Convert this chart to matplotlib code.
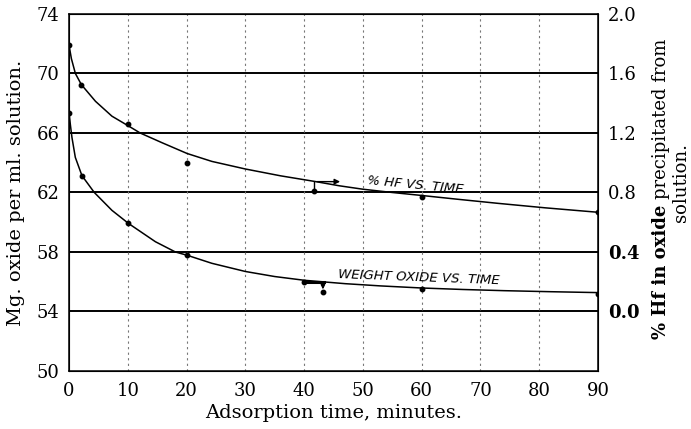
import matplotlib
matplotlib.use("Agg")
import matplotlib.pyplot as plt

# time axis (minutes)
x_ticks = [0, 10, 20, 30, 40, 50, 60, 70, 80, 90]
left_ticks = [50, 54, 58, 62, 66, 70, 74]
right_ticks = [0.0, 0.4, 0.8, 1.2, 1.6, 2.0]
right_labels = ['0.0', '0.4', '0.8', '1.2', '1.6', '2.0']

# weight oxide (mg per ml) - measured points
wt_t = [0, 2.2, 10, 20, 40, 43.2, 60, 90]
wt_val = [67.33, 63.13, 59.92, 57.78, 56.0, 55.3, 55.5, 55.2]
# hand drawn curve through them
wt_curve_t = [0, 0.22, 0.5, 1.07, 2.2, 4.3, 7.3, 10.15, 14.7, 18.1, 20.1, 24.3, 30, 35,
              40, 47, 53, 60, 67, 74, 82, 90]
wt_curve_v = [67.4, 66.58, 65.69, 64.36, 63.13, 62.0, 60.8, 59.91, 58.69, 58.0, 57.78,
              57.24, 56.69, 56.35, 56.1, 55.87, 55.72, 55.58, 55.48, 55.4, 55.33, 55.27]

# % Hf in oxide - measured points (right axis)
hf_t = [0, 2.1, 10, 20, 41.7, 60, 90]
hf_val = [1.79, 1.525, 1.26, 1.00, 0.807, 0.767, 0.667]
hf_curve_t = [0, 0.4, 1.08, 2.1, 4.5, 7.3, 10, 12.1, 15.8, 20.1, 24.3, 30, 36, 42, 46,
              50, 55, 60, 66, 73, 81, 90]
hf_curve_v = [1.79, 1.70, 1.60, 1.525, 1.413, 1.313, 1.25, 1.20, 1.135, 1.062, 1.009,
              0.958, 0.912, 0.873, 0.845, 0.822, 0.80, 0.78, 0.755, 0.727, 0.697, 0.667]

plt.rcParams['font.family'] = ['DejaVu Serif']

fig = plt.figure(figsize=(6.91, 4.29), dpi=100)
ax = fig.add_axes([0.0999, 0.1352, 0.7655, 0.8322])
ax.set_xlim(0, 90)
ax.set_ylim(50, 74)

for v in left_ticks[1:-1]:
    ax.axhline(v, color='black', lw=1.4, zorder=1)
for v in x_ticks[1:-1]:
    ax.axvline(v, color='#777777', lw=0.8, ls=(0, (2, 3)), zorder=1)

ax.plot(wt_curve_t, wt_curve_v, color='black', lw=1.1, zorder=3)
ax.plot(wt_t, wt_val, 'o', color='black', ms=3.2, zorder=4)

ax.set_xticks(x_ticks)
ax.set_yticks(left_ticks)
ax.tick_params(length=0, labelsize=13, pad=8)
ax.tick_params(axis='y', pad=7)
ax.set_xlabel('Adsorption time, minutes.', fontsize=14, labelpad=3)
ax.set_ylabel('Mg. oxide per ml. solution.', fontsize=14, labelpad=8)
for s in ax.spines.values():
    s.set_color('black')
    s.set_linewidth(1.1)

ax2 = ax.twinx()
ax2.set_ylim(-0.4, 2.0)
ax2.plot(hf_curve_t, hf_curve_v, color='black', lw=1.1, zorder=3)
ax2.plot(hf_t, hf_val, 'o', color='black', ms=3.2, zorder=4)
ax2.set_yticks(right_ticks)
ax2.set_yticklabels(right_labels)
ax2.tick_params(length=0, labelsize=13, pad=7)
for lab in ax2.get_yticklabels()[:2]:
    lab.set_fontweight('bold')

# right axis title, first words in bold
r = fig.canvas.get_renderer()
t1 = fig.text(0.956, 0, '% Hf in oxide', fontsize=13, fontweight='bold', rotation=90,
              ha='center', va='bottom')
t2 = fig.text(0.956, 0, 'precipitated from', fontsize=13, rotation=90,
              ha='center', va='bottom')
h1 = t1.get_window_extent(r).height / fig.bbox.height
h2 = t2.get_window_extent(r).height / fig.bbox.height
gap = 5 / fig.bbox.height
y0 = 0.56 - (h1 + gap + h2) / 2
t1.set_y(y0)
t2.set_y(y0 + h1 + gap)
fig.text(0.985, 0.575, 'solution.', fontsize=13, rotation=90, ha='center', va='center')

# arrows / markers near the labels
ax2.annotate('', xy=(46.6, 0.873), xytext=(41.7, 0.873),
             arrowprops=dict(arrowstyle='-|>', color='black', lw=1.0, mutation_scale=8))
ax2.plot([41.7, 41.7], [0.873, 0.807], color='black', lw=1.0)
ax.plot([40, 43.4], [56.0, 56.0], color='black', lw=2.2, zorder=4)
ax.annotate('', xy=(43.2, 55.3), xytext=(43.2, 56.0),
            arrowprops=dict(arrowstyle='-|>', color='black', lw=1.0, mutation_scale=6))

ax2.text(50.7, 0.775, '% HF VS. TIME', fontsize=9.5, style='italic', family='DejaVu Sans',
         rotation=-5.5, ha='left', va='bottom')
ax.text(45.7, 55.62, 'WEIGHT OXIDE VS. TIME', fontsize=9.5, style='italic',
        family='DejaVu Sans', rotation=-2.2, ha='left', va='bottom')

fig.savefig('out.png', dpi=100)
